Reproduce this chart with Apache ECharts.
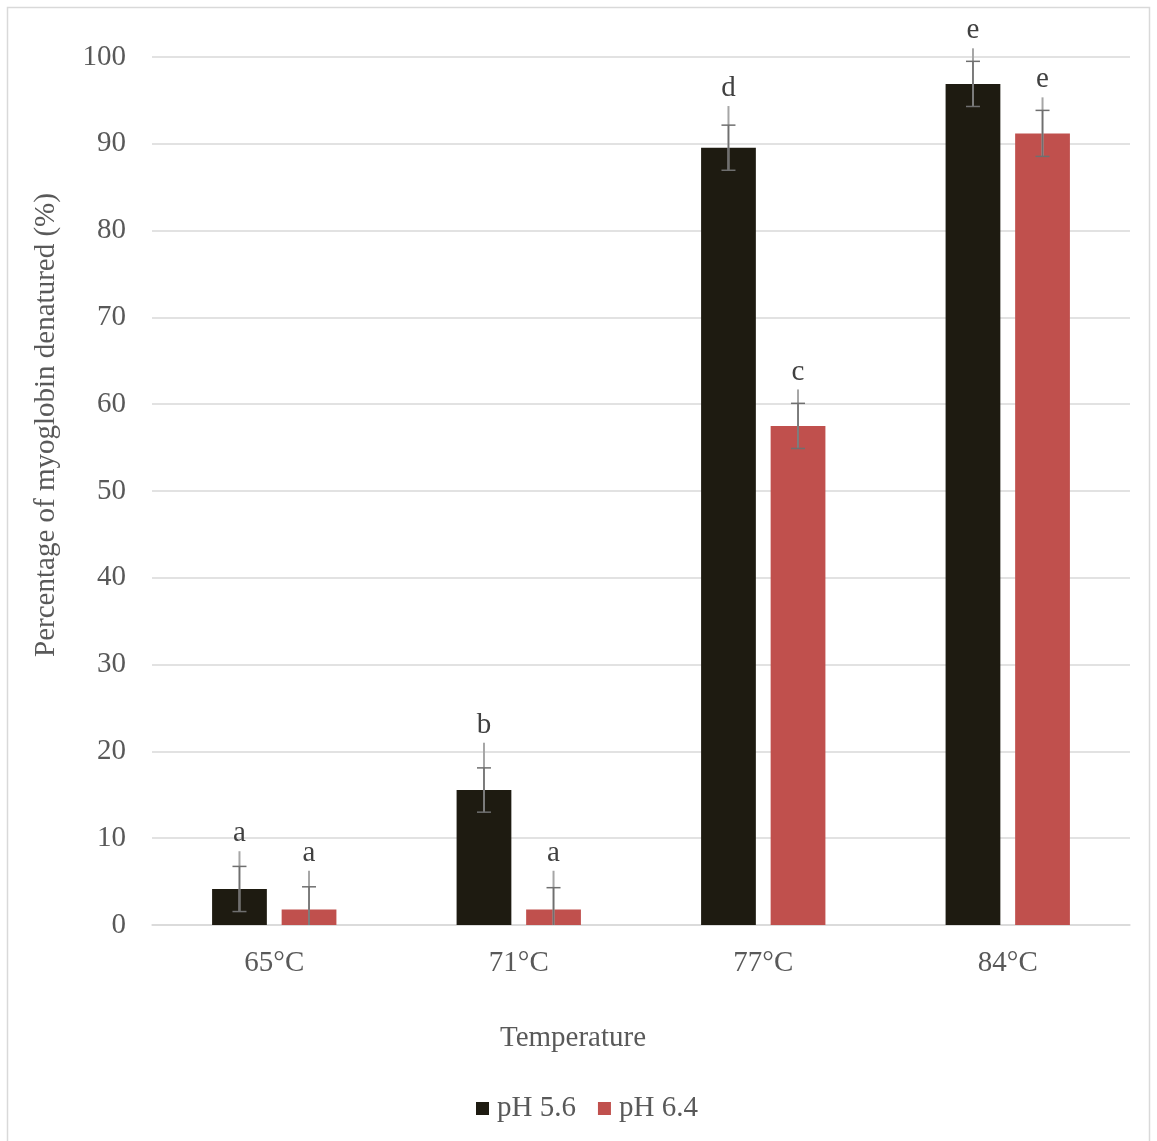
<!DOCTYPE html>
<html>
<head>
<meta charset="utf-8">
<script src="https://cdn.jsdelivr.net/npm/echarts@6/dist/echarts.min.js"></script>
<style>html,body{margin:0;padding:0;background:#fff;}#c{width:1157px;height:1141px;}</style>
</head>
<body>
<div id="c"></div>
<script>
var categories = ['65°C', '71°C', '77°C', '84°C'];
var seriesNames = ['pH 5.6', 'pH 6.4'];
var ph56 = [4.15, 15.55, 89.55, 96.9];
var ph64 = [1.8, 1.8, 57.5, 91.2];
var err56 = [2.6, 2.55, 2.6, 2.6];
var err64 = [2.6, 2.5, 2.6, 2.65];
var top56 = [8.5, 21.0, 94.35, 101.0];
var top64 = [6.25, 6.25, 61.7, 95.35];
var letters56 = ['a', 'b', 'd', 'e'];
var letters64 = ['a', 'a', 'c', 'e'];
var yTicks = [0, 10, 20, 30, 40, 50, 60, 70, 80, 90, 100];

var FONT = '"Liberation Serif", "Times New Roman", serif';
var FS = 29;
var colors = ['#1e1b11', '#c0504d'];
var BAR_FRAC = 0.224, GAP = 0.27;

function errData(vals, errs, tops, letters) {
  return vals.map(function (v, i) { return [i, v, errs[i], tops[i], letters[i]]; });
}

function makeRender(sign) {
  return function (params, api) {
    var idx = api.value(0);
    var v = api.value(1), e = api.value(2), t = api.value(3);
    var letter = letters[sign < 0 ? 0 : 1][idx];
    var band = api.size([1, 0])[0];
    var bw = band * BAR_FRAC;
    var off = sign * (bw + bw * GAP) / 2;
    var c = api.coord([idx, v]);
    var x = c[0] + off;
    var yHi = api.coord([idx, v + e])[1];
    var yLo = api.coord([idx, Math.max(v - e, 0)])[1];
    var yTop = api.coord([idx, t])[1];
    var capW = 7;
    var children = [
      { type: 'line', shape: { x1: x, y1: yLo, x2: x, y2: yTop }, style: { stroke: '#a6a6a6', lineWidth: 2 } },
      { type: 'line', shape: { x1: x, y1: yLo, x2: x, y2: yHi }, style: { stroke: '#6f6f6f', lineWidth: 1.5 } },
      { type: 'line', shape: { x1: x - capW, y1: yHi, x2: x + capW, y2: yHi }, style: { stroke: '#6f6f6f', lineWidth: 1.5 } },
      { type: 'text', x: x, y: yTop - 3, style: { text: letter, font: FS + 'px ' + FONT, fill: '#404040', textAlign: 'center', textVerticalAlign: 'bottom' } }
    ];
    if (v - e > 0) {
      children.push({ type: 'line', shape: { x1: x - capW, y1: yLo, x2: x + capW, y2: yLo }, style: { stroke: '#6f6f6f', lineWidth: 1.5 } });
    }
    return { type: 'group', children: children };
  };
}
var letters = [letters56, letters64];

var chart = echarts.init(document.getElementById('c'), null, { renderer: 'canvas' });
chart.setOption({
  animation: false,
  backgroundColor: '#ffffff',
  color: colors,
  grid: { left: 152, right: 27, top: 57, bottom: 216, containLabel: false },
  legend: {
    bottom: 13, left: 471,
    data: seriesNames,
    itemWidth: 13, itemHeight: 13, itemGap: 22,
    icon: 'rect',
    textStyle: { fontFamily: FONT, fontSize: FS, color: '#595959', padding: [0, 0, 0, 3] }
  },
  xAxis: {
    type: 'category', data: categories,
    axisLine: { lineStyle: { color: '#d9d9d9', width: 1.5 } },
    axisTick: { show: false },
    axisLabel: { fontFamily: FONT, fontSize: FS, color: '#595959', margin: 24 }
  },
  yAxis: {
    type: 'value', min: 0, max: 100, interval: 10,
    axisLine: { show: false }, axisTick: { show: false },
    splitLine: { lineStyle: { color: '#d9d9d9', width: 1.5 } },
    axisLabel: { fontFamily: FONT, fontSize: FS, color: '#595959', margin: 26, padding: [3, 0, 0, 0] }
  },
  series: [
    { name: seriesNames[0], type: 'bar', data: ph56, barWidth: (BAR_FRAC * 100) + '%', barGap: (GAP * 100) + '%', itemStyle: { color: colors[0] } },
    { name: seriesNames[1], type: 'bar', data: ph64, barWidth: (BAR_FRAC * 100) + '%', barGap: (GAP * 100) + '%', itemStyle: { color: colors[1] } },
    { type: 'custom', renderItem: makeRender(-1), data: errData(ph56, err56, top56, letters56), z: 5, encode: { x: 0, y: 1 } },
    { type: 'custom', renderItem: makeRender(1), data: errData(ph64, err64, top64, letters64), z: 5, encode: { x: 0, y: 1 } }
  ],
  graphic: [
    { type: 'rect', shape: { x: 7.5, y: 7.5, width: 1142, height: 1140 }, style: { fill: 'none', stroke: '#d9d9d9', lineWidth: 1.5 }, silent: true },
    { type: 'text', x: 46, y: 425, rotation: Math.PI / 2, style: { text: 'Percentage of myoglobin denatured (%)', font: FS + 'px ' + FONT, fill: '#595959', textAlign: 'center', textVerticalAlign: 'middle' } },
    { type: 'text', x: 573, y: 1038, style: { text: 'Temperature', font: FS + 'px ' + FONT, fill: '#595959', textAlign: 'center', textVerticalAlign: 'middle' } }
  ]
});
</script>
</body>
</html>
